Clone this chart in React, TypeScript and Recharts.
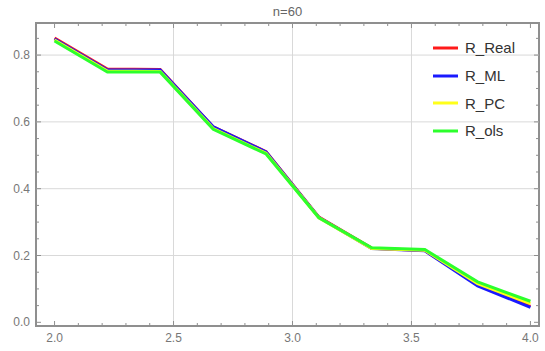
import React from 'react'
import { Legend, Line, LineChart, ReferenceArea, ReferenceLine, XAxis, YAxis } from 'recharts'

const xs = [2.0, 2.222, 2.444, 2.667, 2.889, 3.111, 3.333, 3.556, 3.778, 4.0]
const rReal = [0.851, 0.758, 0.757, 0.585, 0.511, 0.315, 0.222, 0.215, 0.112, 0.048]
const rML = [0.848, 0.755, 0.755, 0.585, 0.51, 0.314, 0.221, 0.214, 0.109, 0.045]
const rPC = [0.845, 0.752, 0.751, 0.58, 0.506, 0.313, 0.221, 0.216, 0.116, 0.056]
const rOls = [0.842, 0.749, 0.749, 0.578, 0.504, 0.313, 0.223, 0.218, 0.121, 0.063]
const seriesNames = ['R_Real', 'R_ML', 'R_PC', 'R_ols']

const xTicks = [2.0, 2.1, 2.2, 2.3, 2.4, 2.5, 2.6, 2.7, 2.8, 2.9, 3.0, 3.1, 3.2, 3.3, 3.4, 3.5, 3.6, 3.7, 3.8, 3.9, 4.0]
const xMajor = [2.0, 2.5, 3.0, 3.5, 4.0]
const yTicks = [0.0, 0.05, 0.1, 0.15, 0.2, 0.25, 0.3, 0.35, 0.4, 0.45, 0.5, 0.55, 0.6, 0.65, 0.7, 0.75, 0.8, 0.85]
const yMajor = [0.0, 0.2, 0.4, 0.6, 0.8]
const xGrid = [2.5, 3.0, 3.5]
const yGrid = [0.2, 0.4, 0.6, 0.8]
const xDomain = [1.922, 4.036]
const yDomain = [-0.011, 0.896]

const data = xs.map((x, i) => ({ x, real: rReal[i], ml: rML[i], pc: rPC[i], ols: rOls[i] }))

const font = '"Liberation Sans", Arial, sans-serif'
const frame = '#8f8f8f'
const labelColor = '#777'

const isMajor = (list: number[], v: number) => list.some((m) => Math.abs(m - v) < 1e-6)

// bottom / left ticks point into the plot, labels only on majors
const makeTick = (side: 'bottom' | 'left', majors: number[]) =>
  (props: any) => {
    const { x, y, payload } = props
    const v = payload.value
    const major = isMajor(majors, v)
    const len = major ? 5 : 3
    return (
      <g>
        {side === 'bottom' ? (
          <line x1={x} x2={x} y1={y} y2={y - len} stroke={frame} />
        ) : (
          <line x1={x} x2={x + len} y1={y} y2={y} stroke={frame} />
        )}
        {major && side === 'bottom' && (
          <text x={x} y={y + 16} textAnchor="middle" fontSize={12} fill={labelColor} fontFamily={font}>
            {v.toFixed(1)}
          </text>
        )}
        {major && side === 'left' && (
          <text x={x - 6} y={y + 4} textAnchor="end" fontSize={12} fill={labelColor} fontFamily={font}>
            {v.toFixed(1)}
          </text>
        )}
      </g>
    )
  }

const LegendBox = (props: any) => {
  const items = [...(props.payload || [])].sort(
    (a: any, b: any) => seriesNames.indexOf(a.value) - seriesNames.indexOf(b.value)
  )
  return (
    <div style={{ fontFamily: font }}>
      {items.map((p: any) => (
        <div key={p.value} style={{ height: 27.7, display: 'flex', alignItems: 'center' }}>
          <svg width={35} height={6}>
            <line x1={3} x2={28} y1={3} y2={3} stroke={p.color} strokeWidth={3} />
          </svg>
          <span style={{ fontSize: 15, color: '#333' }}>{p.value}</span>
        </div>
      ))}
    </div>
  )
}

export default function App() {
  // tick lengths on the top / right frame, in data units
  const topLen = (v: number) => (isMajor(xMajor, v) ? 0.015 : 0.009)
  const rightLen = (v: number) => (isMajor(yMajor, v) ? 0.021 : 0.0126)

  return (
    <div style={{ position: 'absolute', left: 0, top: 0, width: 545, height: 351, background: '#fff' }}>
      <div
        style={{
          position: 'absolute',
          left: 0,
          width: 575,
          top: 4,
          textAlign: 'center',
          fontFamily: font,
          fontSize: 13,
          color: '#666',
        }}
      >
        n=60
      </div>
      <LineChart width={545} height={351} data={data} margin={{ top: 23, right: 6, bottom: 5, left: 0 }}>
        <XAxis
          xAxisId="b"
          dataKey="x"
          type="number"
          domain={xDomain}
          ticks={xTicks}
          interval={0}
          height={20}
          stroke={frame}
          tickSize={0}
          tickMargin={0}
          tick={makeTick('bottom', xMajor)}
        />
        <YAxis
          yAxisId="l"
          type="number"
          domain={yDomain}
          ticks={yTicks}
          interval={0}
          width={36}
          stroke={frame}
          tickSize={0}
          tickMargin={0}
          tick={makeTick('left', yMajor)}
        />
        {xGrid.map((g) => (
          <ReferenceLine key={'gx' + g} x={g} xAxisId="b" yAxisId="l" stroke="#d9d9d9" />
        ))}
        {yGrid.map((g) => (
          <ReferenceLine key={'gy' + g} y={g} xAxisId="b" yAxisId="l" stroke="#d9d9d9" />
        ))}
        <ReferenceArea
          xAxisId="b"
          yAxisId="l"
          x1={xDomain[0]}
          x2={xDomain[1]}
          y1={yDomain[0]}
          y2={yDomain[1]}
          stroke={frame}
          strokeWidth={2}
          fill="none"
          fillOpacity={0}
          ifOverflow="visible"
        />
        {xTicks.map((t) => (
          <ReferenceLine
            key={'tt' + t}
            xAxisId="b"
            yAxisId="l"
            stroke={frame}
            ifOverflow="visible"
            segment={[
              { x: t, y: yDomain[1] },
              { x: t, y: yDomain[1] - topLen(t) },
            ]}
          />
        ))}
        {yTicks.map((t) => (
          <ReferenceLine
            key={'rt' + t}
            xAxisId="b"
            yAxisId="l"
            stroke={frame}
            ifOverflow="visible"
            segment={[
              { x: xDomain[1], y: t },
              { x: xDomain[1] - rightLen(t), y: t },
            ]}
          />
        ))}
        <Line xAxisId="b" yAxisId="l" dataKey="real" name="R_Real" stroke="#ff1a1a" strokeWidth={3} dot={false} isAnimationActive={false} />
        <Line xAxisId="b" yAxisId="l" dataKey="ml" name="R_ML" stroke="#1a1aff" strokeWidth={3} dot={false} isAnimationActive={false} />
        <Line xAxisId="b" yAxisId="l" dataKey="pc" name="R_PC" stroke="#ffff1a" strokeWidth={3} dot={false} isAnimationActive={false} />
        <Line xAxisId="b" yAxisId="l" dataKey="ols" name="R_ols" stroke="#2cff2c" strokeWidth={3} dot={false} isAnimationActive={false} />
        <Legend
          content={<LegendBox />}
          layout="vertical"
          align="center"
          verticalAlign="middle"
          wrapperStyle={{ position: 'absolute', left: 430, top: 34, width: 110 }}
        />
      </LineChart>
    </div>
  )
}
